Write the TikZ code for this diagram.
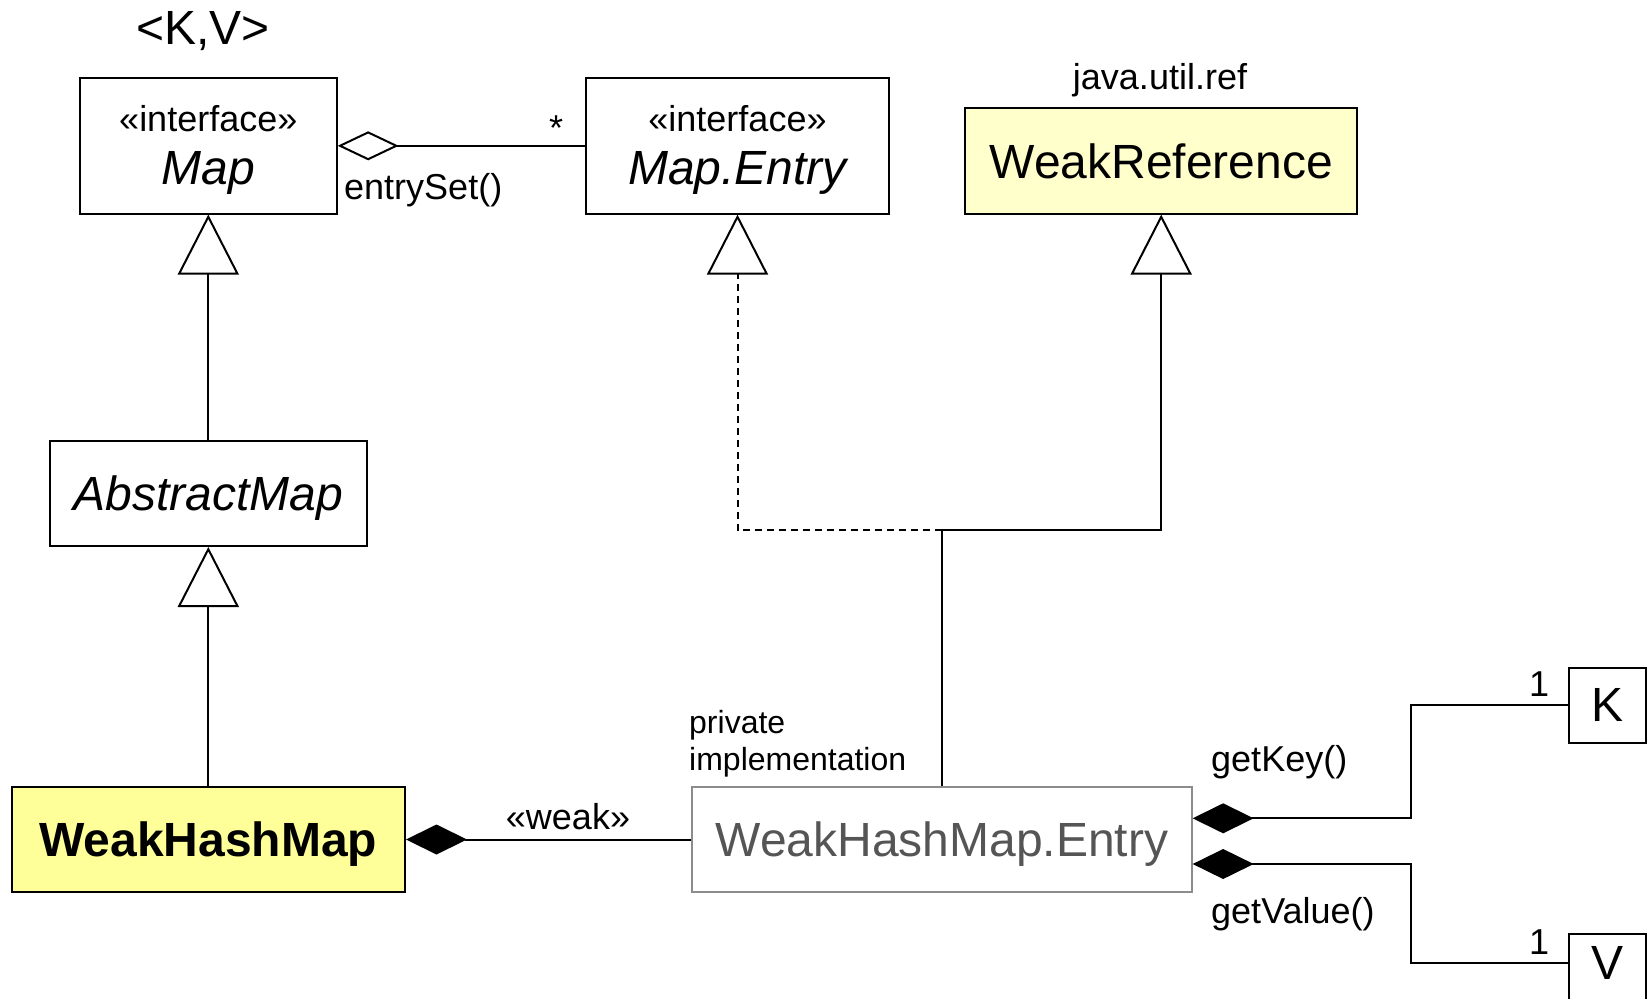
\documentclass[tikz,border=0pt]{standalone}
\usepackage{fontspec}
\setmainfont{Liberation Sans}
\usetikzlibrary{arrows.meta}

\definecolor{paleyellow}{HTML}{FFFFCC}
\definecolor{brightyellow}{HTML}{FFFF99}
\definecolor{privline}{HTML}{8C8C8C}
\definecolor{privtext}{HTML}{555555}

\newcommand{\fsz}[1]{\fontsize{#1}{#1}\selectfont}

\begin{document}
\begin{tikzpicture}[x=1pt, y=-1pt,
  classbox/.style={draw, line width=2pt, inner sep=0pt, align=center, font=\fsz{48}},
  namebox/.style={classbox, text depth=0pt},
  iface/.style={classbox, font=\fontsize{36}{53.4}\selectfont},
  lbl/.style={inner sep=0pt, font=\fsz{36}},
  conn/.style={line width=2pt},
  inherit/.style={conn, -{Triangle[open, length=60pt, width=61pt, fill=white]}},
  aggr/.style={conn, {Diamond[open, length=61pt, width=29pt, fill=white]}-},
  comp/.style={conn, {Diamond[length=61pt, width=30pt]}-},
  realize/.style={inherit, dash pattern=on 7pt off 5pt}]

\useasboundingbox (0,0) rectangle (1650,999);

% generic parameters
\node[lbl, font=\fsz{48}] (params) at (203,31) {<K,V>};

% interfaces
\node[iface, minimum width=256.7pt, minimum height=135.6pt] (map) at (208.3,145.8)
  {\rule{0pt}{34pt}«interface»\\{\fontsize{48}{53.4}\selectfont\itshape Map}};
\node[iface, minimum width=303pt, minimum height=135.6pt] (mapentry) at (737.5,145.8)
  {\rule{0pt}{34pt}«interface»\\{\fontsize{48}{53.4}\selectfont\itshape Map.Entry}};

% java.util.ref
\node[lbl] (pkg) at (1160,80) {java.util.ref};
\node[namebox, fill=paleyellow, minimum width=392.5pt, minimum height=105.2pt] (weakref) at (1161.2,161) {WeakReference};

% class hierarchy
\node[namebox, minimum width=317.5pt, minimum height=105pt, font=\fsz{48}\itshape] (absmap) at (208.3,493.5) {AbstractMap};
\node[namebox, fill=brightyellow, minimum width=393.4pt, minimum height=105pt, font=\fsz{48}\bfseries] (whm) at (208.3,839.5) {WeakHashMap};

% private entry class
\node[namebox, draw=privline, text=privtext, minimum width=499.3pt, minimum height=105pt] (entry) at (942,839.5) {WeakHashMap.Entry};
\node[lbl, font=\fontsize{32}{37}\selectfont, align=left, anchor=north west] (privnote) at (689,710) {private\\implementation};

% type parameter boxes
\node[namebox, minimum width=76.7pt, minimum height=74.7pt] (K) at (1607.3,705.3) {K};
\node[classbox, minimum width=76.7pt, minimum height=75pt, text depth=17pt] (V) at (1607.3,971.5) {V};

% Map --<> Map.Entry
\draw[aggr] (map) -- (mapentry);
\node[lbl, anchor=base] (many) at (556,140) {*};
\node[lbl, anchor=west] (entryset) at (344,190) {entrySet()};

% generalisations
\draw[inherit] (absmap) -- (map);
\draw[inherit] (whm) -- (absmap);

\coordinate (junc) at (942,530);
\draw[inherit] (entry.north) -- (junc) -| (weakref.south);
\draw[realize] (junc) -| (mapentry.south);

% WeakHashMap <>-- Entry
\draw[comp] (whm) -- (entry);
\node[lbl] (weak) at (568,816.6) {«weak»};

% Entry <>-- K, V
\draw[comp] ([yshift=21.2pt]entry.east) -- ++(218.3,0) |- (K.west);
\draw[comp] ([yshift=-24.5pt]entry.east) -- ++(218.3,0) |- ([yshift=8.5pt]V.west);
\node[lbl, anchor=west] (getkey) at (1211,762) {getKey()};
\node[lbl, anchor=west] (getvalue) at (1211,914) {getValue()};
\node[lbl] (kone) at (1539,684) {1};
\node[lbl] (vone) at (1539,942) {1};
\end{tikzpicture}
\end{document}
